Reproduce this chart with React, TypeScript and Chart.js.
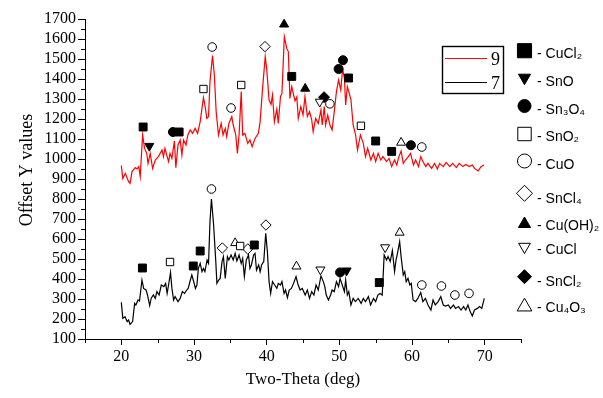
import React, { useEffect, useRef } from 'react';
import { Chart, registerables } from 'chart.js';
import { drawPoint } from 'chart.js/helpers';

Chart.register(...registerables);

// ---- Sample 9 (red) ----
const sample9Theta = [
  20.0, 20.2, 20.55, 21.0, 21.2, 21.47, 21.92, 22.15, 22.4, 22.6, 22.93, 23.2, 23.5, 23.67, 23.98, 24.3, 24.67, 25.1, 25.6, 25.8,
  26.0, 26.5, 26.7, 26.96, 27.3, 27.5, 27.8, 28.1, 28.33, 28.56, 28.9, 29.15, 29.48, 29.8, 30.16, 30.5, 30.85, 31.3, 31.5, 31.77,
  32.0, 32.2, 32.55, 32.8, 33.05, 33.37, 33.74, 34.0, 34.3, 34.5, 34.8, 35.2, 35.4, 35.75, 35.97, 36.2, 36.5, 36.7, 37.0, 37.4,
  37.7, 38.0, 38.4, 38.86, 39.1, 39.4, 39.8, 40.0, 40.33, 40.6, 40.8, 41.06, 41.4, 41.6, 41.9, 42.1, 42.43, 42.76, 42.98, 43.2,
  43.45, 43.9, 44.15, 44.35, 44.7, 45.0, 45.27, 45.6, 45.9, 46.2, 46.4, 46.74, 47.1, 47.47, 47.65, 47.93, 48.1, 48.4, 48.7, 49.0,
  49.3, 49.6, 49.9, 50.2, 50.45, 50.7, 50.87, 51.1, 51.3, 51.6, 51.9, 52.24, 52.5, 52.9, 53.3, 53.6, 53.9, 54.34, 54.7, 55.0,
  55.34, 55.7, 56.0, 56.5, 56.85, 57.2, 57.6, 57.9, 58.2, 58.5, 58.8, 59.1, 59.5, 59.8, 60.2, 60.5, 60.9, 61.2, 61.5, 61.9,
  62.2, 62.7, 63.1, 63.5, 63.8, 64.3, 64.7, 65.2, 65.6, 66.1, 66.5, 67.0, 67.4, 67.9, 68.3, 68.6, 69.1, 69.5, 69.9,
];
const sample9Counts = [
  967, 903, 928, 887, 878, 937, 957, 950, 962, 912, 1120, 1053, 1028, 978, 1028, 953, 995, 1012, 1045, 1012,
  1053, 987, 1028, 1003, 1090, 957, 1070, 1095, 1020, 1095, 1070, 1120, 1145, 1128, 1153, 1128, 1187, 1307, 1270, 1203,
  1212, 1387, 1517, 1420, 1237, 1120, 1178, 1120, 1153, 1112, 1178, 1212, 1170, 1120, 1028, 1120, 1337, 1120, 1128, 1078,
  1095, 1062, 1103, 1128, 1187, 1337, 1512, 1453, 1295, 1273, 1320, 1187, 1250, 1178, 1312, 1328, 1612, 1553, 1537, 1303,
  1362, 1290, 1310, 1203, 1262, 1220, 1312, 1212, 1237, 1195, 1137, 1203, 1178, 1245, 1170, 1262, 1170, 1220, 1170, 1145,
  1237, 1337, 1395, 1345, 1450, 1403, 1270, 1362, 1337, 1295, 1170, 1120, 1045, 1120, 1078, 1012, 1053, 995, 1028, 987,
  1028, 995, 1012, 987, 1003, 962, 995, 970, 1012, 1040, 978, 995, 1012, 1028, 970, 995, 962, 1012, 987, 962,
  978, 953, 978, 950, 978, 962, 983, 962, 978, 957, 978, 962, 973, 962, 970, 953, 940, 962, 970,
];

// ---- Sample 7 (black) ----
const sample7Theta = [
  20.0, 20.2, 20.5, 20.8, 21.0, 21.2, 21.55, 21.83, 22.0, 22.3, 22.5, 22.84, 23.07, 23.4, 23.6, 23.9, 24.1, 24.4, 24.67, 24.9,
  25.2, 25.5, 25.85, 26.1, 26.3, 26.5, 26.77, 26.96, 27.2, 27.4, 27.8, 28.1, 28.4, 28.7, 29.0, 29.2, 29.5, 29.7, 29.9, 30.2,
  30.4, 30.6, 30.85, 31.1, 31.3, 31.5, 31.8, 32.0, 32.2, 32.4, 32.7, 33.0, 33.15, 33.4, 33.6, 33.86, 34.05, 34.3, 34.6, 34.8,
  35.1, 35.4, 35.66, 35.9, 36.2, 36.5, 36.7, 36.93, 37.2, 37.5, 37.7, 37.9, 38.2, 38.4, 38.6, 38.9, 39.1, 39.3, 39.6, 39.87,
  40.1, 40.33, 40.55, 40.8, 41.1, 41.4, 41.6, 41.9, 42.1, 42.4, 42.6, 42.86, 43.1, 43.4, 43.7, 44.04, 44.3, 44.6, 44.9, 45.3,
  45.6, 45.9, 46.2, 46.5, 46.8, 47.1, 47.47, 47.8, 48.0, 48.2, 48.5, 48.8, 49.0, 49.3, 49.6, 49.9, 50.1, 50.4, 50.7, 50.87,
  51.1, 51.3, 51.6, 51.9, 52.2, 52.6, 53.0, 53.3, 53.6, 54.0, 54.3, 54.7, 55.0, 55.3, 55.6, 55.9, 56.17, 56.5, 56.7, 57.0,
  57.3, 57.6, 57.8, 58.0, 58.3, 58.5, 58.8, 59.0, 59.2, 59.45, 59.7, 59.9, 60.15, 60.5, 60.8, 61.2, 61.5, 61.85, 62.2, 62.6,
  62.9, 63.2, 63.6, 63.96, 64.3, 64.6, 65.0, 65.3, 65.7, 66.0, 66.4, 66.75, 67.1, 67.4, 67.7, 68.0, 68.3, 68.6, 69.0, 69.3,
  69.6, 69.95,
];
const sample7Counts = [
  283, 203, 212, 187, 195, 173, 187, 278, 270, 295, 290, 395, 353, 345, 320, 267, 303, 320, 303, 337,
  320, 370, 362, 378, 328, 370, 433, 353, 295, 312, 287, 303, 337, 328, 345, 353, 395, 420, 395, 353,
  370, 453, 478, 437, 453, 437, 495, 478, 687, 800, 670, 487, 378, 395, 403, 487, 512, 403, 512, 495,
  520, 495, 528, 490, 520, 478, 503, 412, 495, 520, 453, 470, 520, 528, 445, 470, 437, 470, 487, 628,
  537, 387, 328, 387, 370, 353, 378, 370, 387, 328, 345, 307, 345, 353, 378, 412, 375, 345, 353, 320,
  345, 303, 337, 320, 370, 345, 415, 387, 362, 320, 295, 320, 345, 337, 387, 362, 403, 370, 337, 395,
  320, 337, 270, 303, 287, 303, 278, 303, 287, 312, 270, 303, 287, 320, 328, 320, 520, 495, 512, 487,
  542, 437, 495, 528, 587, 512, 420, 437, 387, 403, 370, 378, 295, 287, 303, 332, 287, 303, 270, 245,
  295, 270, 287, 312, 270, 265, 270, 253, 270, 253, 262, 245, 262, 245, 270, 237, 215, 245, 253, 262,
  253, 303,
];

// ---- Phase annotations [2θ, offset Y] ----
const cuCl2Peaks = [[23.0, 1160], [27.95, 1135], [43.45, 1413], [51.27, 1405], [55.0, 1090], [57.2, 1038],
  [22.9, 455], [29.9, 465], [30.85, 540], [38.3, 570], [55.5, 382]];
const snOPeaks = [[23.85, 1065], [51.0, 442]];
const sn3O4Peaks = [[27.1, 1135], [49.9, 1450], [50.5, 1494], [59.85, 1069], [50.1, 433]];
const snO2Peaks = [[31.3, 1350], [36.5, 1370], [52.97, 1166], [26.7, 485], [36.35, 565]];
const cuOPeaks = [[32.5, 1560], [35.1, 1255], [48.7, 1276], [61.35, 1060], [32.4, 850], [61.35, 370],
  [64.05, 365], [65.9, 320], [67.85, 328]];
const snCl4Peaks = [[39.77, 1562], [33.9, 555], [37.4, 550], [39.9, 670]];
const cuOH2Peaks = [[42.4, 1673], [45.3, 1352]];
const cuClPeaks = [[47.3, 1286], [47.4, 447], [56.3, 558]];
const snCl2Peaks = [[47.9, 1309]];
const cu4O3Peaks = [[58.5, 1082], [35.66, 580], [44.1, 463], [58.3, 632]];

const phaseLabels = ['- CuCl₂', '- SnO', '- Sn₃O₄', '- SnO₂', '- CuO', '- SnCl₄', '- Cu(OH)₂', '- CuCl', '- SnCl₂', '- Cu₄O₃'];
const phasePeaks = [cuCl2Peaks, snOPeaks, sn3O4Peaks, snO2Peaks, cuOPeaks, snCl4Peaks, cuOH2Peaks, cuClPeaks, snCl2Peaks, cu4O3Peaks];

const seriesLabels = ['9', '7'];
const xTickLabels = [20, 30, 40, 50, 60, 70];

// styling
const phaseStyles = [
  { style: 'rect', rot: 0, fill: true, r: 5.6, lr: 10 },
  { style: 'triangle', rot: 180, fill: true, r: 5.2, lr: 7 },
  { style: 'circle', rot: 0, fill: true, r: 4.5, lr: 6.5 },
  { style: 'rect', rot: 0, fill: false, r: 5.2, lr: 9.5 },
  { style: 'circle', rot: 0, fill: false, r: 4.3, lr: 7 },
  { style: 'rectRot', rot: 0, fill: false, r: 5.2, lr: 8 },
  { style: 'triangle', rot: 0, fill: true, r: 5.2, lr: 7 },
  { style: 'triangle', rot: 180, fill: false, r: 5.2, lr: 6.8 },
  { style: 'rectRot', rot: 0, fill: true, r: 5.5, lr: 7 },
  { style: 'triangle', rot: 0, fill: false, r: 5.2, lr: 8.5 },
];
const legendMarkerY = [50.7, 77.7, 106, 134, 161, 193.3, 224, 246.7, 276.7, 306.7];
const legendTextY = [54, 82, 110, 137, 165, 199, 226, 250, 281.7, 308];

const overlayPlugin = {
  id: 'overlay',
  afterDraw(chart: any) {
    const ctx = chart.ctx;
    const xs = chart.scales.x;
    const ys = chart.scales.y;
    const area = chart.chartArea;
    ctx.save();
    ctx.strokeStyle = '#000';
    ctx.lineWidth = 1;
    // minor ticks
    ctx.beginPath();
    for (let v = 15; v <= 75; v += 10) {
      const px = Math.round(xs.getPixelForValue(v)) + 0.5;
      ctx.moveTo(px, area.bottom);
      ctx.lineTo(px, area.bottom + 4);
    }
    for (let v = 150; v < 1700; v += 100) {
      const py = Math.round(ys.getPixelForValue(v)) + 0.5;
      ctx.moveTo(area.left, py);
      ctx.lineTo(area.left - 4, py);
    }
    ctx.stroke();

    // series legend box
    ctx.strokeStyle = '#000';
    ctx.lineWidth = 1.4;
    ctx.strokeRect(442.5, 46.5, 61, 47);
    const lineColors = ['#ff0000', '#000000'];
    const rowY = [58.5, 82.5];
    ctx.font = '18px "Liberation Serif"';
    ctx.textBaseline = 'middle';
    ctx.textAlign = 'left';
    for (let i = 0; i < 2; i++) {
      ctx.beginPath();
      ctx.strokeStyle = lineColors[i];
      ctx.lineWidth = 1.2;
      ctx.moveTo(445, rowY[i]);
      ctx.lineTo(487, rowY[i]);
      ctx.stroke();
      ctx.fillStyle = '#000';
      ctx.fillText(seriesLabels[i], 491, rowY[i] + 2);
    }

    // phase legend
    ctx.font = '14px "Liberation Sans"';
    for (let i = 0; i < phaseLabels.length; i++) {
      const st = phaseStyles[i];
      ctx.fillStyle = st.fill ? '#000' : '#fff';
      ctx.strokeStyle = '#000';
      ctx.lineWidth = 1;
      drawPoint(ctx, { pointStyle: st.style, rotation: st.rot, radius: st.lr, borderWidth: 1 } as any, 524.5, legendMarkerY[i]);
      ctx.fillStyle = '#000';
      ctx.fillText(phaseLabels[i], 537, legendTextY[i]);
    }
    ctx.restore();
  },
};

export default function App() {
  const ref = useRef<HTMLCanvasElement>(null);
  useEffect(() => {
    document.body.style.margin = '0';
    const lineData = (xs: number[], ys: number[]) => xs.map((x, i) => ({ x, y: ys[i] }));
    const markerSets = phasePeaks.map((pk, i) => {
      const st = phaseStyles[i];
      return {
        type: 'scatter' as const,
        label: phaseLabels[i],
        data: pk.map((p) => ({ x: p[0], y: p[1] })),
        showLine: false,
        pointStyle: st.style,
        rotation: st.rot,
        pointRadius: st.r,
        pointBackgroundColor: st.fill ? '#000' : '#fff',
        pointBorderColor: '#000',
        pointBorderWidth: 1,
        order: 0,
      };
    });
    Chart.defaults.font.family = '"Liberation Serif"';
    const chart = new Chart(ref.current!, {
      type: 'line',
      data: {
        datasets: [
          {
            label: seriesLabels[0],
            data: lineData(sample9Theta, sample9Counts),
            borderColor: '#ff0000',
            borderWidth: 1.2,
            pointRadius: 0,
            tension: 0,
            order: 10,
          },
          {
            label: seriesLabels[1],
            data: lineData(sample7Theta, sample7Counts),
            borderColor: '#000000',
            borderWidth: 1.2,
            pointRadius: 0,
            tension: 0,
            order: 10,
          },
          ...markerSets,
        ] as any,
      },
      options: {
        animation: false,
        responsive: true,
        maintainAspectRatio: false,
        layout: { padding: { top: 19, right: 82, left: 0, bottom: 0 } },
        plugins: { legend: { display: false }, tooltip: { enabled: false } },
        scales: {
          x: {
            type: 'linear',
            min: 15,
            max: 75,
            border: { display: true, color: '#000', width: 1 },
            grid: {
              drawOnChartArea: false,
              drawTicks: true,
              tickLength: 6,
              color: (c: any) => (c.tick && xTickLabels.includes(c.tick.value) ? '#000' : 'rgba(0,0,0,0)'),
            },
            ticks: {
              stepSize: 5,
              autoSkip: false,
              maxRotation: 0,
              padding: 2,
              color: '#000',
              font: { family: '"Liberation Serif"', size: 16 },
              callback: (v: any) => (xTickLabels.includes(v) ? String(v) : ''),
            },
            title: {
              display: true,
              text: 'Two-Theta (deg)',
              color: '#000',
              font: { family: '"Liberation Serif"', size: 17 },
              padding: { top: 0, bottom: 8 },
            },
            afterFit: (s: any) => { s.height = 59; },
          },
          y: {
            type: 'linear',
            min: 100,
            max: 1700,
            border: { display: true, color: '#000', width: 1 },
            grid: {
              drawOnChartArea: false,
              drawTicks: true,
              tickLength: 7,
              color: (c: any) => (c.tick && c.tick.value % 100 === 0 ? '#000' : 'rgba(0,0,0,0)'),
            },
            ticks: {
              stepSize: 50,
              autoSkip: false,
              padding: 2,
              color: '#000',
              font: { family: '"Liberation Serif"', size: 16 },
              callback: (v: any) => (v % 100 === 0 ? String(v) : ''),
            },
            title: {
              display: true,
              text: '    Offset Y values',
              color: '#000',
              font: { family: '"Liberation Serif"', size: 18 },
              padding: { top: 16, bottom: 0 },
            },
            afterFit: (s: any) => { s.width = 85; },
          },
        },
      },
      plugins: [overlayPlugin],
    });
    return () => chart.destroy();
  }, []);
  return (
    <div style={{ width: 603, height: 398, position: 'relative' }}>
      <canvas ref={ref} />
    </div>
  );
}
